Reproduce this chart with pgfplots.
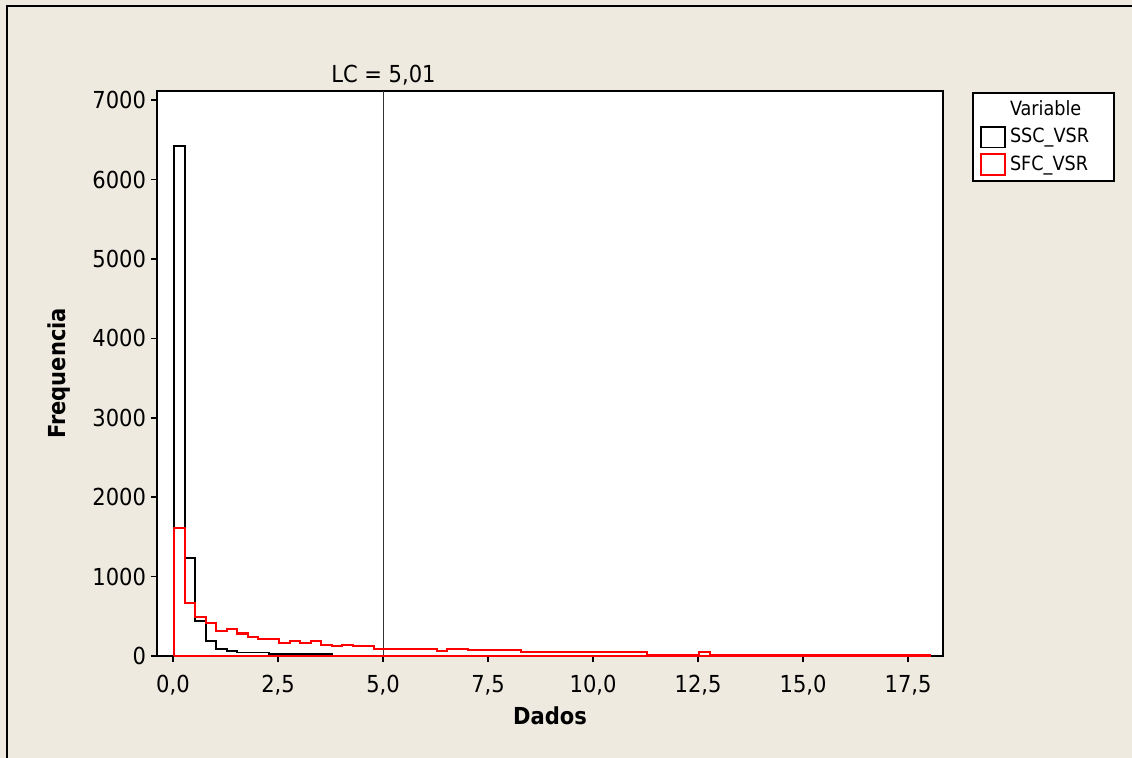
\documentclass[border=0pt]{standalone}
\usepackage{fontspec}
\setmainfont{DejaVu Sans Condensed}
\usepackage{pgfplots}
\pgfplotsset{compat=1.18}
\definecolor{bg}{HTML}{EEEAE0}
\definecolor{refc}{HTML}{333333}
\begin{document}
\begin{tikzpicture}
\useasboundingbox (0,0) rectangle (566pt,379pt);
\fill[bg] (0,0) rectangle (566pt,379pt);
\draw[black, line width=1pt] (3.4pt,0) -- (3.4pt,376pt) -- (566pt,376pt);
\begin{axis}[
  at={(78.5pt,51pt)}, anchor=south west, scale only axis,
  width=393pt, height=282.5pt,
  xmin=-0.38, xmax=18.33, ymin=0, ymax=7116,
  axis background/.style={fill=white},
  axis line style={line width=0.75pt},
  xtick={0,2.5,5,7.5,10,12.5,15,17.5},
  ytick={0,1000,2000,3000,4000,5000,6000,7000},
  xtick pos=bottom, ytick pos=left, tick align=outside,
  major tick length=3pt,
  every tick/.style={black, line width=0.75pt},
  xticklabel style={yshift=-3pt, /pgf/number format/fixed, /pgf/number format/fixed zerofill, /pgf/number format/precision=1, /pgf/number format/use comma},
  yticklabel style={xshift=1pt, /pgf/number format/fixed, /pgf/number format/1000 sep={}},
  /pgf/number format/assume math mode=true,
  tick label style={font=\fontsize{11.7}{14}\selectfont},
  scaled ticks=false,
  xlabel={\textbf{Dados}}, ylabel={\textbf{Frequencia}},
  label style={font=\fontsize{11.7}{14}\selectfont},
  xlabel style={at={(axis description cs:0.5,-0.106)}, anchor=center},
  ylabel style={at={(axis description cs:-0.125,0.5)}, anchor=center},
  clip=false,
  legend style={at={(1.037,0.998)}, anchor=north west, draw=black, line width=0.75pt, fill=white,
    font=\fontsize{9.8}{11}\selectfont, inner xsep=3.5pt, inner ysep=1.9pt, row sep=0.9pt},
  legend cell align=left,
  legend image code/.code={\draw[#1, fill=white] (0pt,-5.2pt) rectangle (12pt,5.2pt);},
]
\addlegendimage{empty legend}
\addlegendentry{Variable}
\addplot[refc, line width=0.8pt, forget plot] coordinates {(5.01,0) (5.01,7116)};
\addplot[black, line width=0.9pt, const plot] coordinates {
(0.03,0) (0.03,6420) (0.28,1234) (0.53,441) (0.78,189) (1.03,88) (1.28,63)
(1.53,43) (1.78,43) (2.03,43) (2.28,21) (2.53,21) (2.78,21) (3.03,21) (3.28,21)
(3.53,21) (3.78,21) (3.78,0) (0.03,0)};
\addlegendentry{\makebox[46.5pt][l]{SSC\_VSR}}
\addplot[red, line width=1.1pt, const plot] coordinates {
(0.03,0) (0.03,1610) (0.28,672) (0.53,496) (0.78,412) (1.03,315) (1.28,342)
(1.53,282) (1.78,239) (2.03,214) (2.28,214) (2.53,167) (2.78,192) (3.03,167)
(3.28,192) (3.53,141) (3.78,124) (4.03,143) (4.28,122) (4.53,122) (4.78,93)
(5.03,93) (5.28,93) (5.53,93) (5.78,93) (6.03,93) (6.28,65) (6.53,93) (6.78,93)
(7.03,72) (7.28,72) (7.53,72) (7.78,72) (8.03,72) (8.28,47) (8.53,47) (8.78,47)
(9.03,47) (9.28,47) (9.53,47) (9.78,47) (10.03,47) (10.28,47) (10.53,47) (10.78,47)
(11.03,47) (11.28,17) (11.53,17) (11.78,17) (12.03,17) (12.28,17) (12.53,47)
(12.78,17) (13.03,17) (13.28,17) (13.53,17) (13.78,17) (14.03,17) (14.28,17)
(14.53,17) (14.78,17) (15.03,17) (15.28,17) (15.53,17) (15.78,17) (16.03,17)
(16.28,17) (16.53,17) (16.78,17) (17.03,17) (17.28,17) (17.53,17) (17.78,17)
(18.03,17) (18.03,0) (0.03,0)};
\addlegendentry{\makebox[46.5pt][l]{SFC\_VSR}}
\node[anchor=base, inner sep=0pt, font=\fontsize{11.7}{14}\selectfont, yshift=4pt] at (axis cs:5.01,7116) {LC = 5,01};
\end{axis}
\end{tikzpicture}
\end{document}
